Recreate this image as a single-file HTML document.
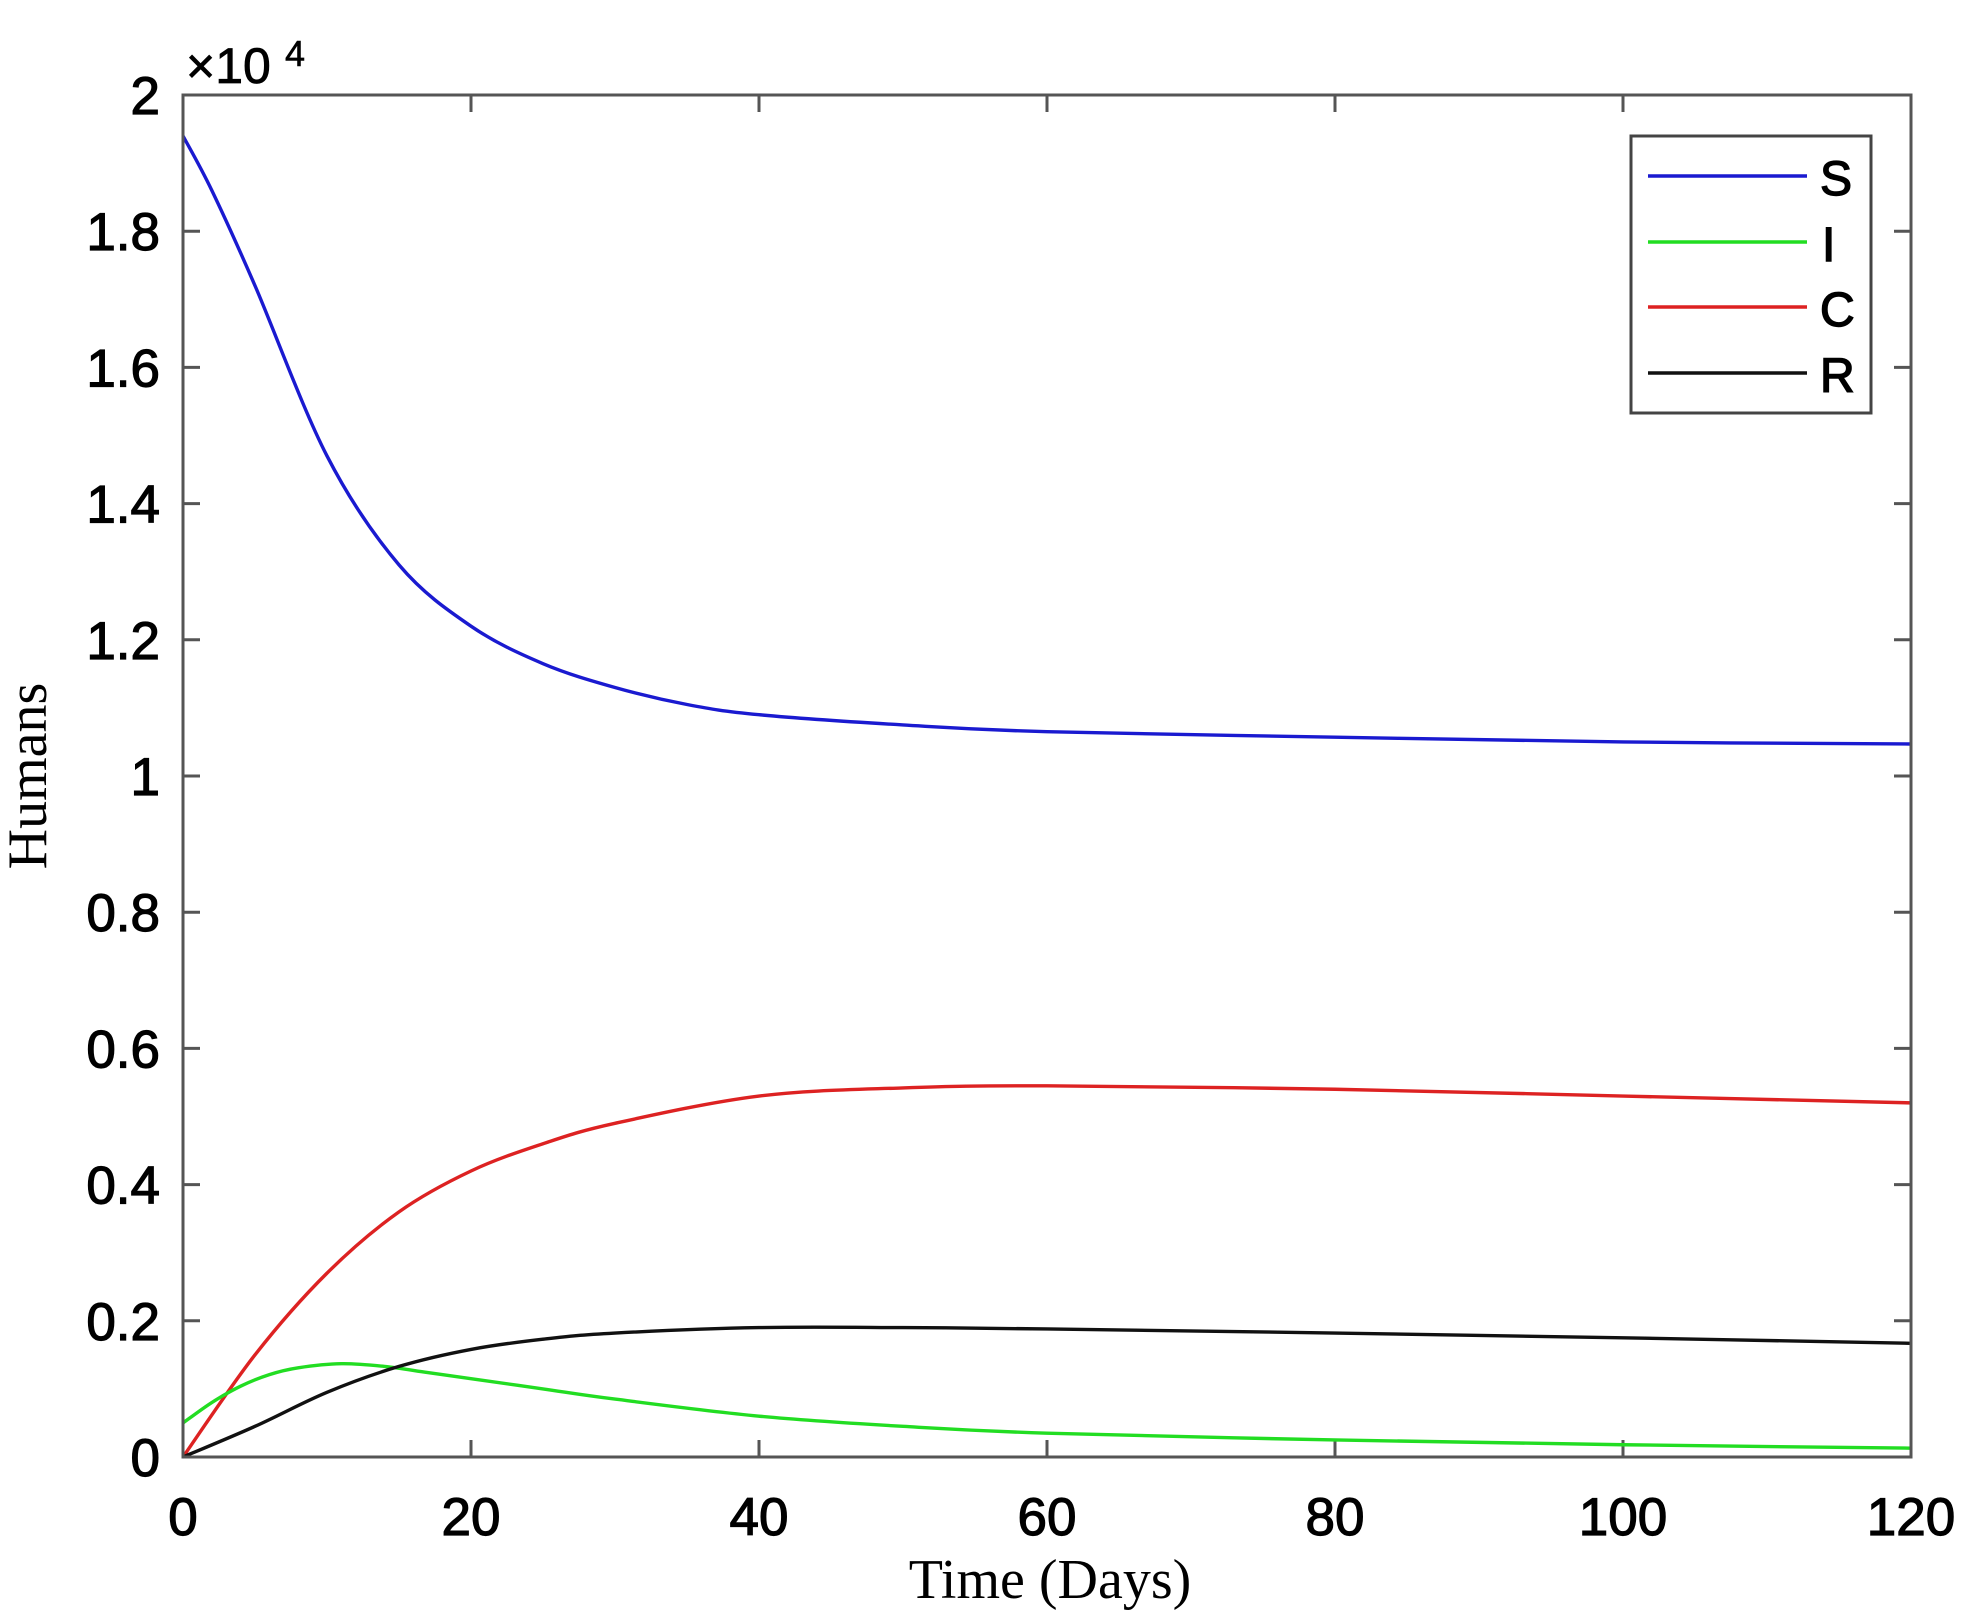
<!DOCTYPE html>
<html><head><meta charset="utf-8"><style>
html,body{margin:0;padding:0;background:#fff;}
svg{display:block;}
</style></head><body>
<svg id="c" width="1969" height="1623" viewBox="0 0 1969 1623" xmlns="http://www.w3.org/2000/svg">
<rect width="1969" height="1623" fill="#fff"/>
<g id="ticks" stroke="#555" stroke-width="3"></g>
<g id="series" fill="none" stroke-width="3.4"></g>
<rect x="183" y="95" width="1728" height="1362" fill="none" stroke="#555" stroke-width="3"/>
<g font-family="Liberation Sans, Arial, sans-serif" font-size="53" fill="#000" stroke="#000" stroke-width="1.2" id="labels"></g>
<text x="186" y="83" font-family="Liberation Sans, sans-serif" font-size="50" stroke="#000" stroke-width="0.8">×10</text>
<text x="285" y="66" font-family="Liberation Sans, sans-serif" font-size="36" stroke="#000" stroke-width="0.6">4</text>
<text x="1050" y="1598" text-anchor="middle" font-family="Liberation Serif, serif" font-size="56">Time (Days)</text>
<text transform="translate(46,776) rotate(-90)" text-anchor="middle" font-family="Liberation Serif, serif" font-size="56">Humans</text>
<rect x="1631" y="136" width="240" height="277" fill="#fff" stroke="#444" stroke-width="3"/>
<g stroke-width="3.4">
<line x1="1648" y1="176" x2="1807" y2="176" stroke="#1a1ad0"/>
<line x1="1648" y1="242" x2="1807" y2="242" stroke="#22dd22"/>
<line x1="1648" y1="307" x2="1807" y2="307" stroke="#dd2222"/>
<line x1="1648" y1="373" x2="1807" y2="373" stroke="#111"/>
</g>
<g font-family="Liberation Sans, sans-serif" font-size="48" stroke="#000" stroke-width="1.4">
<text x="1820" y="195">S</text>
<text x="1822" y="261">I</text>
<text x="1820" y="326">C</text>
<text x="1820" y="392">R</text>
</g>
</svg>
<script>
var X=function(t){return 183+t*14.4;}, Y=function(v){return 1457-v*681;};
var ns="http://www.w3.org/2000/svg";
var tk=document.getElementById('ticks'), lb=document.getElementById('labels');
function el(p,n,a,txt){var e=document.createElementNS(ns,n);for(var k in a)e.setAttribute(k,a[k]);if(txt!=null)e.textContent=txt;p.appendChild(e);}
for(var t=0;t<=120;t+=20){var x=X(t);
 el(tk,'line',{x1:x,y1:1457,x2:x,y2:1440});el(tk,'line',{x1:x,y1:95,x2:x,y2:112});
 el(lb,'text',{x:x,y:1535,'text-anchor':'middle'},String(t));}
var yl=['0','0.2','0.4','0.6','0.8','1','1.2','1.4','1.6','1.8','2'];
for(var i=0;i<=10;i++){var v=i*0.2,y=Y(v);
 el(tk,'line',{x1:183,y1:y,x2:200,y2:y});el(tk,'line',{x1:1911,y1:y,x2:1894,y2:y});
 el(lb,'text',{x:160,y:y+19,'text-anchor':'end'},yl[i]);}
var data={
'#1a1ad0':[[0,1.94],[2,1.86],[5,1.72],[10,1.47],[15,1.31],[20,1.22],[25,1.165],[30,1.13],[35,1.105],[40,1.09],[50,1.075],[60,1.065],[80,1.057],[100,1.05],[120,1.047]],
'#dd2222':[[0,0],[5,0.15],[10,0.27],[15,0.36],[20,0.42],[25,0.46],[30,0.49],[40,0.53],[50,0.542],[60,0.545],[80,0.54],[100,0.53],[120,0.52]],
'#22dd22':[[0,0.05],[2,0.08],[4,0.104],[6,0.121],[8,0.131],[11,0.137],[14,0.133],[17,0.124],[20,0.115],[25,0.1],[30,0.085],[40,0.06],[50,0.045],[60,0.035],[80,0.025],[100,0.018],[120,0.013]],
'#111':[[0,0],[5,0.045],[10,0.095],[15,0.133],[20,0.158],[25,0.173],[30,0.182],[40,0.19],[50,0.19],[60,0.188],[80,0.182],[100,0.175],[120,0.167]]};
var sg=document.getElementById('series');
for(var c in data){var p=data[c].map(function(a){return [X(a[0]),Y(a[1])];});
 var d='M'+p[0][0]+','+p[0][1];
 for(var i=0;i<p.length-1;i++){var p0=p[Math.max(i-1,0)],p1=p[i],p2=p[i+1],p3=p[Math.min(i+2,p.length-1)];
  d+=' C'+(p1[0]+(p2[0]-p0[0])/6)+','+(p1[1]+(p2[1]-p0[1])/6)+' '+(p2[0]-(p3[0]-p1[0])/6)+','+(p2[1]-(p3[1]-p1[1])/6)+' '+p2[0]+','+p2[1];}
 el(sg,'path',{d:d,stroke:c});}
</script>
</body></html>
